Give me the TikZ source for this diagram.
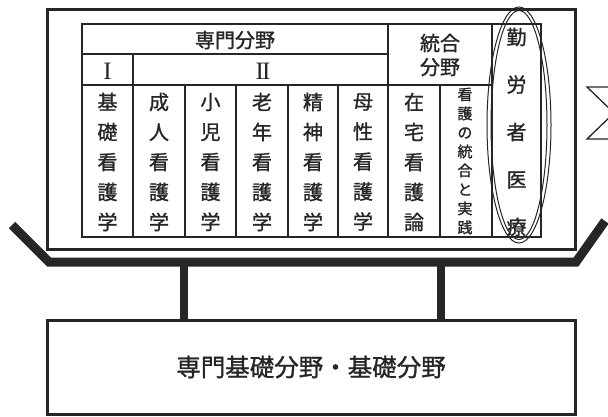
\documentclass[tikz,border=0pt]{standalone}
\usepackage{fontspec}
\newfontfamily\jp[FakeBold=1.2]{Noto Sans CJK JP}
\newfontfamily\numfont{Liberation Serif}
\begin{document}
\begin{tikzpicture}[x=1pt,y=-1pt,
  ink/.style={draw=black!85},
  heavy/.style={ink, line width=3pt},
  grid/.style={ink, line width=1.3pt},
  bar/.style={ink, line width=9pt, line join=miter},
  post/.style={ink, line width=8pt},
  txt/.style={text=black!85, inner sep=0pt, align=center},
  big/.style={txt, font=\jp\fontsize{20}{30}\selectfont},
  small/.style={txt, font=\jp\fontsize{15}{19}\selectfont},
  num/.style={txt, font=\numfont\fontsize{25}{25}\selectfont},
  ring/.style={ink, line width=1pt}]
\fill[white] (0,0) rectangle (608,416);
\useasboundingbox (0,0) rectangle (608,416);
\clip (0,0) rectangle (608,416);

% outer box (upper) and base box (lower)
\node[heavy, minimum width=528pt, minimum height=240pt, inner sep=0pt] (upper) at (311,129) {};
\node[heavy, minimum width=528pt, minimum height=94pt, inner sep=0pt,
      txt, font=\jp\fontsize{24.5}{28}\selectfont] (base) at (311,367) {専門基礎分野・基礎分野};

% tray
\coordinate (trayL) at (12,225);
\coordinate (trayBL) at (49,262);
\coordinate (trayBR) at (576,262);
\coordinate (trayR) at (605,221);
\draw[bar] (trayL) -- (trayBL) -- (trayBR) -- (trayR);

% supports
\coordinate (p1) at (184,262);
\coordinate (p2) at (441,262);
\draw[post] (p1) -- (p1 |- base.north);
\draw[post] (p2) -- (p2 |- base.north);

% table grid
\draw[grid] (82,24) rectangle (541,237);
\draw[grid] (82,54) -- (388,54);
\draw[grid] (82,85) -- (492,85);
\draw[grid] (388,24) -- (388,237);
\draw[grid] (492,24) -- (492,237);
\draw[grid] (133,54) -- (133,237);
\foreach \cx in {185,236,288,338,440} \draw[grid] (\cx,85) -- (\cx,237);

% headers
\node[big] (h1) at (235,40) {専門分野};
\node[big, font=\jp\fontsize{20}{24}\selectfont] (h2) at (440,55) {統合\\分野};
\node[num] (r1) at (107.5,71) {I};
\node[num] (r2) at (263,71) {I\kern-0.07em I};

% columns
\node[big] (c1) at (107.5,162) {基\\礎\\看\\護\\学};
\node[big] (c2) at (159,162) {成\\人\\看\\護\\学};
\node[big] (c3) at (210.5,162) {小\\児\\看\\護\\学};
\node[big] (c4) at (262,162) {老\\年\\看\\護\\学};
\node[big] (c5) at (313,162) {精\\神\\看\\護\\学};
\node[big] (c6) at (363,162) {母\\性\\看\\護\\学};
\node[big] (c7) at (414,162) {在\\宅\\看\\護\\論};
\node[small] (c8) at (465,161) {看\\護\\の\\統\\合\\と\\実\\践};
\node[big, font=\jp\fontsize{20}{47.5}\selectfont] (c9) at (516.5,132) {勤\\労\\者\\医\\療};

% double ellipse
\draw[ring] (519,125) ellipse [x radius=32, y radius=118];
\draw[ring] (519,125) ellipse [x radius=28, y radius=114.5];

% partial sigma at right edge
\draw[ink, line width=1.3pt, line join=miter]
  (616,87) -- (587,87) -- (614,113) -- (587,139) -- (616,139);
\end{tikzpicture}
\end{document}
